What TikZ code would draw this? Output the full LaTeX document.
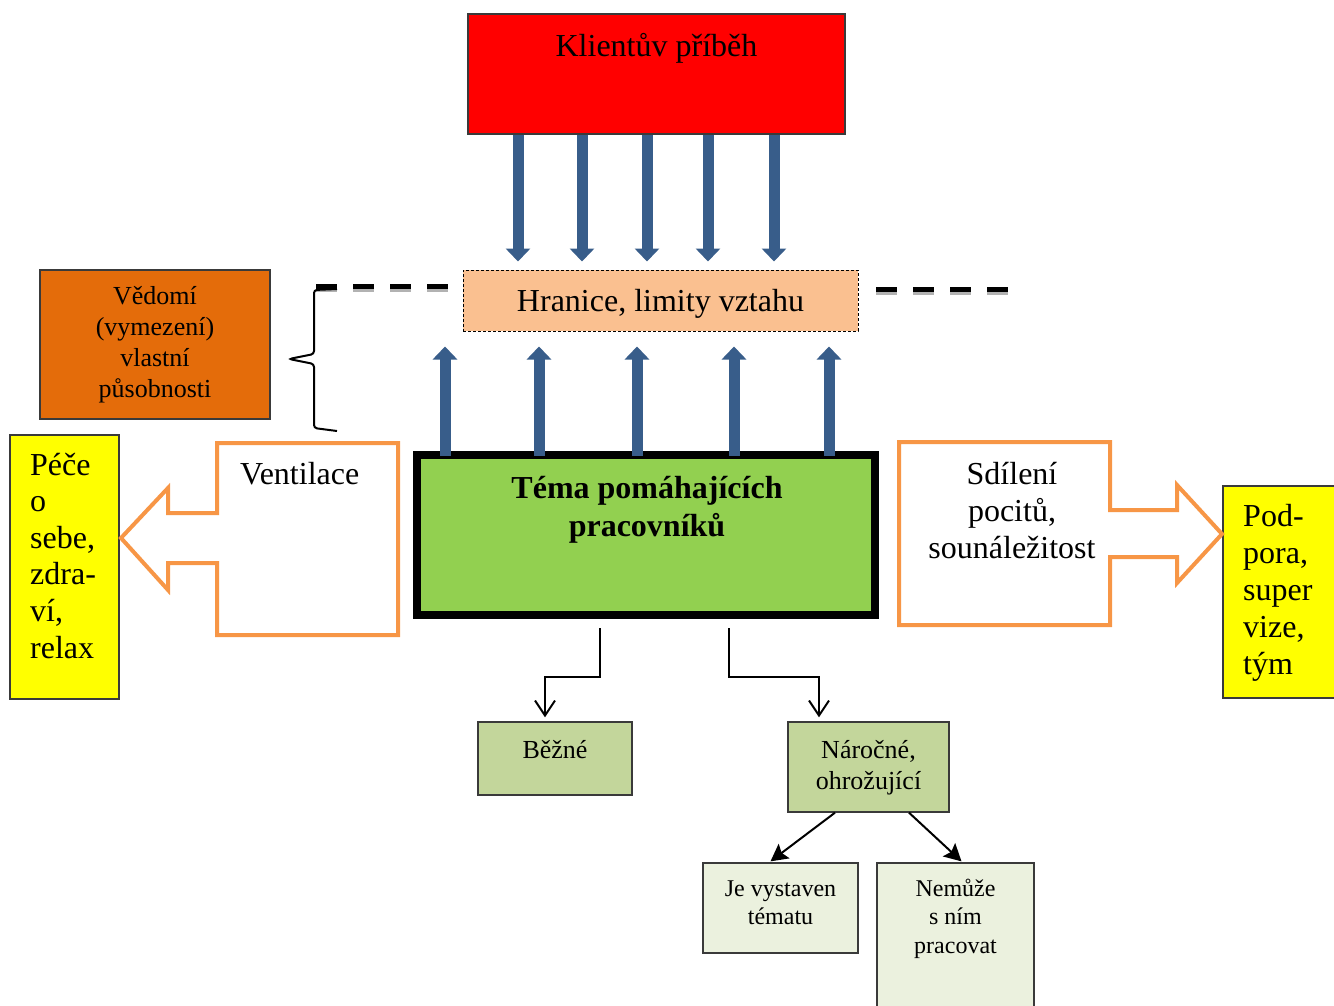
\documentclass[tikz,border=0pt]{standalone}
\usepackage{fontspec}
\setmainfont{Liberation Serif}
\usetikzlibrary{arrows.meta,calc}
\definecolor{cred}{HTML}{FF0000}
\definecolor{cpeach}{HTML}{FAC090}
\definecolor{corange}{HTML}{E46C0A}
\definecolor{cgreen}{HTML}{92D050}
\definecolor{cyellow}{HTML}{FFFF00}
\definecolor{clgreen}{HTML}{C3D69B}
\definecolor{cvlgreen}{HTML}{EBF1DE}
\definecolor{ccallout}{HTML}{F79646}
\definecolor{cblue}{HTML}{385D8A}
\definecolor{cborder}{HTML}{3A3A3A}
\begin{document}
\begin{tikzpicture}[x=1pt,y=-1pt,
  box/.style={draw=cborder, inner sep=0pt, line width=1.3pt},
  tA/.style={font=\fontsize{32}{37}\selectfont, inner sep=0pt},
  tB/.style={font=\fontsize{26}{31}\selectfont, inner sep=0pt},
  tC/.style={font=\fontsize{24}{28.5}\selectfont, inner sep=0pt},
  blockarrow/.style={draw=cblue, line width=11pt, -{Triangle[width=24pt,length=13pt]}},
  conn/.style={line width=2pt, -{Straight Barb[length=15pt,width=20pt]}},
  diag/.style={line width=2pt, -{Stealth[length=17pt,width=18pt,inset=3pt]}},
  callout/.style={draw=ccallout, fill=white, line width=4pt, line join=miter},
  dashline/.style={line width=5pt, dash pattern=on 21pt off 16pt}
]
\useasboundingbox (0,0) rectangle (1334,1005);

% boxes
\node[box, fill=cred, minimum width=377pt, minimum height=120pt] (red) at (656.5,74) {};
\node[draw=black, fill=cpeach, inner sep=0pt, line width=1pt, dash pattern=on 3pt off 2pt,
      minimum width=395pt, minimum height=61pt] (hranice) at (660.5,300.5) {};
\node[box, fill=corange, minimum width=230pt, minimum height=149pt] (vedomi) at (155,344.5) {};
\node[box, fill=cyellow, minimum width=109pt, minimum height=264pt] (pece) at (64.5,567) {};
\node[box, fill=cyellow, minimum width=122pt, minimum height=212pt] (podpora) at (1284,592) {};
\node[draw=black, fill=cgreen, line width=8pt, inner sep=0pt, minimum width=458pt, minimum height=160.5pt] (green) at (646,535) {};
\node[box, fill=clgreen, minimum width=154pt, minimum height=73pt] (bezne) at (555,758.5) {};
\node[box, fill=clgreen, minimum width=161pt, minimum height=90pt] (narocne) at (868.5,767) {};
\node[box, fill=cvlgreen, minimum width=155pt, minimum height=90pt] (jevyst) at (780.5,908) {};
\node[box, fill=cvlgreen, minimum width=157pt, minimum height=152pt] (nemuze) at (955.5,939) {};

% callouts
\draw[callout] (217,443) -- (398,443) -- (398,635) -- (217,635) -- (217,563) -- (168,563)
  -- (168,590) -- (121,538) -- (168,488) -- (168,513) -- (217,513) -- cycle;
\draw[callout] (899,442) -- (1110,442) -- (1110,510) -- (1177,510) -- (1177,485) -- (1222,534)
  -- (1177,583) -- (1177,557) -- (1110,557) -- (1110,625) -- (899,625) -- cycle;

% dashed boundary lines
\draw[dashline, draw=gray!60] (316,289) -- (452,289);
\draw[dashline, draw=black] (316,286.5) -- (452,286.5);
\draw[dashline, draw=gray!60] (876,292) -- (1012,292);
\draw[dashline, draw=black] (876,289.5) -- (1012,289.5);

% brace
\draw[line width=2pt, rounded corners=3pt] (337,289) -- (314,290) -- (314,354) -- (289,359)
  -- (314,364) -- (314,428) -- (337,431);

% block arrows down
\foreach \i/\x in {1/518,2/582,3/647,4/708,5/774} {
  \coordinate (d\i) at (\x,0);
  \draw[blockarrow, shorten >=8pt] (red.south -| d\i) -- (hranice.north -| d\i);
}
% block arrows up
\foreach \i/\x in {1/445,2/539,3/637,4/734,5/829} {
  \coordinate (u\i) at (\x,0);
  \draw[blockarrow, shorten >=15pt, shorten <=-5pt] (green.north -| u\i) -- (hranice.south -| u\i);
}

% connectors
\draw[conn] ([xshift=-46pt,yshift=-9pt]green.south) -- ++(0,49) -| ([xshift=-10pt,yshift=4pt]bezne.north);
\draw[conn] ([xshift=83pt,yshift=-9pt]green.south) -- ++(0,49) -| ([xshift=-49.5pt,yshift=4pt]narocne.north);
\draw[diag] ([xshift=-33.5pt]narocne.south) -- ([xshift=-10pt,yshift=1pt]jevyst.north);
\draw[diag] ([xshift=40.5pt]narocne.south) -- ([xshift=6pt,yshift=1pt]nemuze.north);

% texts (base anchor = baseline of last line)
\node[tA, anchor=base] (tklient) at (656.5,56) {Klientův příběh};
\node[tA, anchor=base] (thranice) at (660.5,311) {Hranice, limity vztahu};
\node[tB, anchor=base, align=center] (tvedomi) at (155,397) {Vědomí\\(vymezení)\\vlastní\\působnosti};
\node[tA, anchor=base west, align=left, font=\fontsize{32}{36.6}\selectfont] (tpece) at (30,658) {Péče\\o\\sebe,\\zdra-\\ví,\\relax};
\node[tA, anchor=base west] (tvent) at (240,484) {Ventilace};
\node[tA, anchor=base, align=center, font=\fontsize{32}{38}\selectfont\bfseries] (ttema) at (647,536) {Téma pomáhajících\\pracovníků};
\node[tA, anchor=base, align=center] (tsdil) at (1012,558) {Sdílení\\pocitů,\\sounáležitost};
\node[tA, anchor=base west, align=left] (tpod) at (1243,674) {Pod-\\pora,\\super\\vize,\\tým};
\node[tB, anchor=base] (tbezne) at (555,758) {Běžné};
\node[tB, anchor=base, align=center] (tnar) at (868.5,789) {Náročné,\\ohrožující};
\node[tC, anchor=base, align=center] (tje) at (780.5,924.5) {Je vystaven\\tématu};
\node[tC, anchor=base, align=center] (tnem) at (955.5,953) {Nemůže\\s ním\\pracovat};
\end{tikzpicture}
\end{document}
